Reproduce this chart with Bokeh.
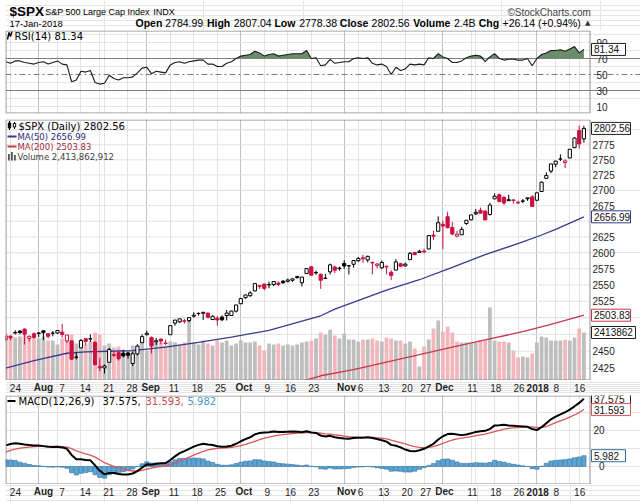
import numpy as np
from bokeh.plotting import figure
from bokeh.layouts import column
from bokeh.models import Range1d, LinearScale, FixedTicker, Grid, Span
from bokeh.core.properties import value
from bokeh.embed import file_html
from bokeh.resources import INLINE

# ---------------- data ----------------
dates = ["Jul 21", "Jul 24", "Jul 25", "Jul 26", "Jul 27", "Jul 28", "Jul 31",
         "Aug 1", "Aug 2", "Aug 3", "Aug 4", "Aug 7", "Aug 8", "Aug 9", "Aug 10", "Aug 11",
         "Aug 14", "Aug 15", "Aug 16", "Aug 17", "Aug 18", "Aug 21", "Aug 22", "Aug 23",
         "Aug 24", "Aug 25", "Aug 28", "Aug 29", "Aug 30", "Aug 31", "Sep 1", "Sep 5",
         "Sep 6", "Sep 7", "Sep 8", "Sep 11", "Sep 12", "Sep 13", "Sep 14", "Sep 15",
         "Sep 18", "Sep 19", "Sep 20", "Sep 21", "Sep 22", "Sep 25", "Sep 26", "Sep 27",
         "Sep 28", "Sep 29", "Oct 2", "Oct 3", "Oct 4", "Oct 5", "Oct 6", "Oct 9", "Oct 10",
         "Oct 11", "Oct 12", "Oct 13", "Oct 16", "Oct 17", "Oct 18", "Oct 19", "Oct 20",
         "Oct 23", "Oct 24", "Oct 25", "Oct 26", "Oct 27", "Oct 30", "Oct 31", "Nov 1",
         "Nov 2", "Nov 3", "Nov 6", "Nov 7", "Nov 8", "Nov 9", "Nov 10", "Nov 13", "Nov 14",
         "Nov 15", "Nov 16", "Nov 17", "Nov 20", "Nov 21", "Nov 22", "Nov 24", "Nov 27",
         "Nov 28", "Nov 29", "Nov 30", "Dec 1", "Dec 4", "Dec 5", "Dec 6", "Dec 7", "Dec 8",
         "Dec 11", "Dec 12", "Dec 13", "Dec 14", "Dec 15", "Dec 18", "Dec 19", "Dec 20",
         "Dec 21", "Dec 22", "Dec 26", "Dec 27", "Dec 28", "Dec 29", "Jan 2", "Jan 3",
         "Jan 4", "Jan 5", "Jan 8", "Jan 9", "Jan 10", "Jan 11", "Jan 12", "Jan 16", "Jan 17"]

prev_close_start = 2473.45

opens = [2467.40, 2472.04, 2477.88, 2479.97, 2482.76, 2469.12, 2475.94, 2477.10, 2480.38, 2476.03,
         2476.88, 2477.14, 2478.35, 2465.35, 2465.38, 2441.04, 2454.96, 2468.66, 2468.63, 2462.95,
         2427.64, 2425.50, 2433.75, 2444.88, 2447.91, 2447.00, 2447.35, 2431.94, 2446.06, 2462.65,
         2474.42, 2470.35, 2463.83, 2468.06, 2462.25, 2474.52, 2491.94, 2493.89, 2494.56, 2495.67,
         2502.51, 2506.29, 2506.84, 2507.16, 2497.26, 2499.39, 2501.04, 2503.30, 2503.41, 2509.96,
         2521.20, 2530.34, 2533.48, 2540.86, 2547.44, 2551.39, 2549.99, 2550.62, 2552.88, 2555.66,
         2555.57, 2557.17, 2562.87, 2553.39, 2567.56, 2578.08, 2568.66, 2566.52, 2560.08, 2570.26,
         2577.75, 2575.99, 2583.21, 2579.46, 2581.93, 2587.47, 2592.11, 2588.71, 2584.00, 2580.18,
         2576.53, 2577.75, 2569.45, 2572.95, 2582.94, 2579.49, 2589.17, 2600.31, 2600.42, 2602.66,
         2605.94, 2627.82, 2633.93, 2645.10, 2657.19, 2639.78, 2626.24, 2628.38, 2646.21, 2652.19,
         2661.73, 2667.59, 2665.87, 2660.63, 2685.92, 2692.71, 2688.18, 2683.02, 2684.22, 2679.09,
         2682.10, 2686.10, 2689.15, 2683.73, 2697.85, 2719.31, 2731.33, 2742.67, 2751.15, 2745.55,
         2752.97, 2770.18, 2798.96, 2784.99]
highs = [2472.54, 2473.10, 2481.24, 2481.69, 2484.04, 2473.53, 2477.96, 2478.51, 2480.38, 2476.03,
         2480.00, 2480.95, 2490.87, 2474.41, 2465.38, 2448.09, 2468.22, 2468.90, 2474.93, 2465.02,
         2440.27, 2430.58, 2454.77, 2448.91, 2450.39, 2451.39, 2449.12, 2449.19, 2460.39, 2475.01,
         2480.38, 2471.97, 2469.64, 2468.62, 2467.11, 2488.95, 2496.77, 2498.37, 2498.43, 2500.23,
         2508.32, 2507.84, 2508.85, 2507.16, 2503.47, 2502.54, 2503.51, 2511.75, 2510.81, 2519.44,
         2529.23, 2535.13, 2540.53, 2552.51, 2549.41, 2551.82, 2555.23, 2555.24, 2555.33, 2557.65,
         2559.47, 2559.71, 2564.11, 2562.36, 2575.44, 2578.29, 2572.18, 2567.40, 2567.07, 2582.98,
         2580.03, 2578.29, 2588.40, 2581.11, 2588.42, 2593.38, 2597.02, 2595.47, 2586.50, 2583.81,
         2587.66, 2579.66, 2572.84, 2590.09, 2583.96, 2584.64, 2601.19, 2600.94, 2604.21, 2606.41,
         2627.69, 2634.89, 2657.74, 2650.62, 2665.19, 2648.72, 2634.41, 2640.99, 2651.65, 2660.33,
         2669.72, 2671.88, 2668.09, 2679.63, 2694.97, 2694.44, 2691.01, 2692.64, 2685.35, 2682.74,
         2685.64, 2687.66, 2692.12, 2695.89, 2714.37, 2729.29, 2743.45, 2748.51, 2759.14, 2750.80,
         2767.56, 2787.85, 2807.54, 2807.04]
lows = [2465.06, 2466.32, 2474.91, 2474.94, 2459.93, 2464.66, 2468.53, 2471.14, 2466.48, 2468.85,
        2472.08, 2475.88, 2470.32, 2462.08, 2437.75, 2437.85, 2454.96, 2458.83, 2463.86, 2430.01,
        2420.69, 2417.35, 2433.67, 2441.42, 2436.19, 2441.13, 2439.03, 2428.20, 2443.82, 2462.65,
        2473.85, 2446.55, 2459.20, 2460.29, 2459.40, 2474.52, 2488.00, 2492.14, 2491.35, 2493.16,
        2499.92, 2503.19, 2496.67, 2499.00, 2496.54, 2488.03, 2495.12, 2495.91, 2502.93, 2507.99,
        2520.40, 2528.85, 2531.80, 2540.02, 2543.79, 2541.60, 2544.86, 2547.95, 2548.31, 2552.09,
        2553.83, 2554.69, 2559.67, 2547.92, 2567.56, 2564.33, 2565.58, 2544.00, 2559.80, 2565.94,
        2568.25, 2572.15, 2574.92, 2566.17, 2576.77, 2585.66, 2584.35, 2585.02, 2566.33, 2575.57,
        2574.48, 2566.56, 2557.45, 2572.95, 2577.62, 2578.24, 2589.17, 2596.15, 2600.42, 2598.87,
        2605.44, 2620.32, 2633.93, 2605.52, 2639.03, 2627.73, 2624.75, 2628.38, 2644.10, 2651.47,
        2659.78, 2662.85, 2652.01, 2659.14, 2685.92, 2680.74, 2676.11, 2682.40, 2678.13, 2677.96,
        2678.91, 2682.69, 2673.61, 2682.36, 2697.77, 2719.07, 2727.92, 2737.60, 2747.86, 2736.06,
        2752.78, 2769.64, 2768.64, 2778.38]
closes = [2472.54, 2469.91, 2477.13, 2477.83, 2475.42, 2472.10, 2470.30, 2476.35, 2477.57, 2472.16,
          2476.83, 2480.91, 2474.92, 2474.02, 2438.21, 2441.32, 2465.84, 2464.61, 2468.11, 2430.01,
          2425.55, 2428.37, 2452.51, 2444.04, 2438.97, 2443.05, 2444.24, 2446.30, 2457.59, 2471.65,
          2476.55, 2457.85, 2465.54, 2465.10, 2461.43, 2488.11, 2496.48, 2498.37, 2495.62, 2500.23,
          2503.87, 2506.65, 2508.24, 2500.60, 2502.22, 2496.66, 2496.84, 2507.04, 2510.06, 2519.36,
          2529.12, 2534.58, 2537.74, 2552.07, 2549.33, 2544.73, 2550.64, 2555.24, 2550.93, 2553.17,
          2557.64, 2559.36, 2561.26, 2562.10, 2575.21, 2564.98, 2569.13, 2557.15, 2560.40, 2581.07,
          2572.83, 2575.26, 2579.36, 2579.85, 2587.84, 2591.13, 2590.64, 2594.38, 2584.62, 2582.30,
          2584.84, 2578.87, 2564.62, 2585.64, 2578.85, 2582.14, 2599.03, 2597.08, 2602.42, 2601.42,
          2627.04, 2626.07, 2647.58, 2642.22, 2639.44, 2629.57, 2629.27, 2636.98, 2651.50, 2659.99,
          2664.11, 2662.85, 2652.01, 2675.81, 2690.16, 2681.47, 2679.25, 2684.57, 2683.34, 2680.50,
          2682.62, 2687.54, 2673.61, 2695.81, 2713.06, 2723.99, 2743.15, 2747.71, 2751.29, 2748.23,
          2767.56, 2786.24, 2776.42, 2802.56]

volume_b = [2.36, 2.31, 2.16, 2.21, 2.61, 2.16, 2.11, 2.11, 2.21, 2.01,
            2.01, 1.81, 2.11, 2.01, 2.31, 1.86, 1.86, 1.81, 1.96, 2.41,
            2.31, 1.76, 1.86, 1.66, 1.71, 1.56, 1.51, 1.76, 1.76, 2.11,
            1.51, 2.11, 1.91, 1.91, 1.76, 1.96, 1.91, 1.81, 1.91, 3.02,
            1.91, 1.81, 2.01, 1.86, 1.76, 2.01, 1.91, 2.01, 1.76, 1.86,
            2.01, 1.91, 1.91, 1.96, 1.76, 1.51, 1.86, 1.81, 1.86, 1.76,
            1.81, 1.76, 1.81, 1.91, 1.96, 2.01, 2.11, 2.41, 2.31, 2.56,
            2.26, 2.11, 2.36, 2.06, 2.06, 1.96, 2.06, 2.06, 2.11, 2.01,
            1.96, 2.16, 2.11, 2.01, 2.01, 1.86, 1.96, 1.61, 0.70, 1.71,
            2.06, 2.61, 3.02, 2.46, 2.71, 2.41, 1.96, 1.91, 1.91, 1.86,
            1.91, 2.01, 2.01, 3.67, 2.01, 1.96, 1.96, 1.91, 1.51, 1.16,
            1.21, 1.16, 1.36, 1.91, 2.21, 2.16, 2.01, 2.01, 2.01, 2.06,
            2.01, 2.16, 2.61, 2.413862]

ma50_day = ["Jul 21", "Jul 31", "Aug 9", "Aug 15", "Aug 22", "Aug 29", "Sep 5", "Sep 8",
            "Sep 19", "Sep 28", "Oct 10", "Oct 19", "Oct 25", "Oct 30", "Nov 14", "Nov 24",
            "Dec 5", "Dec 14", "Dec 27", "Jan 3", "Jan 8", "Jan 17"]
ma50_val = [2425, 2436, 2447, 2449, 2450, 2451, 2454, 2456, 2463, 2471, 2481, 2495, 2503,
            2513, 2542, 2558, 2577, 2597, 2617, 2628, 2637, 2656.99]
ma200_day = ["Oct 13", "Oct 19", "Oct 25", "Nov 3", "Nov 14", "Nov 24", "Dec 5", "Dec 14",
             "Dec 27", "Jan 5", "Jan 17"]
ma200_val = [2400, 2406, 2414, 2423, 2434, 2445, 2456, 2467, 2479, 2490, 2503.83]

rsi = [66, 64, 67, 67, 65, 64, 63, 65, 66, 63,
       65, 67, 63, 62, 41, 43, 54, 53, 55, 40,
       38, 39, 49, 45, 43, 46, 46, 47, 52, 58,
       59, 51, 54, 53, 52, 62, 65, 66, 64, 66,
       67, 68, 68, 63, 63, 60, 60, 64, 66, 70,
       73, 74, 75, 79, 77, 73, 75, 76, 73, 74,
       75, 76, 76, 76, 80, 70, 71, 61, 62, 69,
       64, 65, 66, 66, 70, 71, 70, 71, 64, 62,
       63, 60, 50, 59, 55, 57, 63, 62, 63, 62,
       71, 70, 76, 72, 70, 65, 65, 67, 71, 73,
       74, 73, 66, 72, 76, 70, 68, 69, 69, 68,
       68, 70, 61, 70, 75, 77, 80, 80, 81, 79,
       82, 85, 77, 81.34]

macd = [11.7, 12.5, 12.9, 12.6, 12.2, 11.9, 11.7, 11.6, 11.3, 10.9,
        10.8, 10.9, 10.6, 9.8, 6.4, 4.0, 4.0, 3.6, 3.4, 0.6,
        -2.4, -4.4, -3.6, -3.6, -4.2, -4.4, -4.4, -3.9, -2.6, -0.6,
        1.2, 1.0, 1.5, 1.8, 1.9, 3.6, 5.6, 7.4, 8.5, 9.8,
        11.0, 12.0, 12.6, 12.2, 11.9, 11.2, 10.9, 11.1, 11.5, 12.6,
        14.0, 15.2, 16.2, 17.8, 18.6, 18.8, 19.0, 19.4, 19.2, 19.2,
        19.3, 19.4, 19.3, 19.0, 19.6, 18.9, 18.6, 17.2, 16.6, 17.0,
        16.2, 15.8, 15.5, 15.4, 15.8, 16.0, 16.0, 16.2, 15.8, 15.2,
        14.6, 13.8, 12.0, 11.5, 10.6, 9.4, 8.6, 8.4, 9.0, 9.8,
        11.2, 12.6, 15.0, 16.8, 18.0, 18.2, 17.8, 17.4, 17.8, 18.4,
        19.2, 19.6, 19.8, 20.8, 22.8, 22.9, 23.1, 22.8, 22.6, 22.4,
        22.2, 22.0, 20.8, 20.2, 21.8, 24.0, 26.2, 27.7, 28.9, 30.1,
        31.6, 33.4, 35.3, 37.575]
signal = [8.0, 8.9, 9.6, 10.2, 10.5, 10.8, 11.1, 11.2, 11.2, 11.2,
          11.2, 11.1, 11.0, 10.8, 9.9, 8.7, 7.8, 7.0, 6.3, 5.2,
          3.7, 2.1, 1.0, 0.1, -0.8, -1.5, -2.1, -2.5, -2.5, -2.1,
          -1.4, -0.9, -0.4, 0.0, 0.4, 1.0, 1.9, 3.0, 4.1, 5.2,
          6.3, 7.4, 8.4, 9.2, 9.7, 10.0, 10.2, 10.4, 10.6, 11.0,
          11.6, 12.3, 13.1, 14.0, 14.9, 15.7, 16.3, 16.9, 17.4, 17.7,
          18.0, 18.3, 18.5, 18.6, 18.8, 18.8, 18.8, 18.5, 18.1, 17.9,
          17.6, 17.2, 16.8, 16.5, 16.4, 16.3, 16.2, 16.2, 16.1, 15.9,
          15.7, 15.3, 14.6, 14.0, 13.3, 12.5, 11.7, 11.0, 10.6, 10.4,
          10.6, 11.0, 11.8, 12.8, 13.8, 14.7, 15.3, 15.7, 16.1, 16.6,
          17.1, 17.6, 18.0, 18.6, 19.4, 20.1, 20.7, 21.1, 21.4, 21.6,
          21.8, 22.0, 22.0, 21.7, 21.7, 22.2, 23.2, 24.3, 25.3, 26.3,
          27.4, 28.6, 30.0, 31.593]
hist = [3.7, 3.6, 3.3, 2.4, 1.7, 1.1, 0.6, 0.4, 0.1, -0.3,
        -0.4, -0.2, -0.4, -1.0, -3.5, -4.7, -3.8, -3.4, -2.9, -4.6,
        -6.1, -6.5, -4.6, -3.7, -3.4, -2.9, -2.3, -1.4, -0.1, 1.5,
        2.6, 1.9, 1.9, 1.8, 1.5, 2.6, 3.7, 4.4, 4.4, 4.6,
        4.7, 4.6, 4.2, 3.0, 2.2, 1.2, 0.7, 0.7, 0.9, 1.6,
        2.4, 2.9, 3.1, 3.8, 3.7, 3.1, 2.7, 2.5, 1.8, 1.5,
        1.3, 1.1, 0.8, 0.4, 0.8, 0.1, -0.2, -1.3, -1.5, -0.9,
        -1.4, -1.4, -1.3, -1.1, -0.6, -0.3, -0.2, 0.0, -0.3, -0.7,
        -1.1, -1.5, -2.6, -2.5, -2.7, -3.1, -3.1, -2.6, -1.6, -0.6,
        0.6, 1.6, 3.2, 4.0, 4.2, 3.5, 2.5, 1.7, 1.7, 1.8,
        2.1, 2.0, 1.8, 2.2, 3.4, 2.8, 2.4, 1.7, 1.2, 0.8,
        0.4, 0.0, -1.2, -1.5, 0.1, 1.8, 3.0, 3.4, 3.6, 3.8,
        4.2, 4.8, 5.3, 5.982]

tick_dates = ["Jul 24", "Aug 1", "Aug 7", "Aug 14", "Aug 21", "Aug 28", "Sep 1", "Sep 11",
              "Sep 18", "Sep 25", "Oct 2", "Oct 9", "Oct 16", "Oct 23", "Nov 1", "Nov 6",
              "Nov 13", "Nov 20", "Nov 27", "Dec 1", "Dec 11", "Dec 18", "Dec 26", "Jan 2",
              "Jan 8", "Jan 16"]
tick_labels = ["24", "Aug", "7", "14", "21", "28", "Sep", "11", "18", "25", "Oct", "9", "16",
               "23", "Nov", "6", "13", "20", "27", "Dec", "11", "18", "26", "2018", "8", "16"]
month_labels = ["Aug", "Sep", "Oct", "Nov", "Dec", "2018"]

rsi_ticks = [10, 30, 50, 70, 90]
rsi_lines = [30, 50, 70]
price_ticks = [2425, 2450, 2475, 2500, 2525, 2550, 2575, 2600, 2625, 2650, 2675, 2700,
               2725, 2750, 2775, 2800]
price_hidden = [2475, 2500, 2650, 2800]
macd_ticks = [-10, 0, 10, 20, 30, 40]
macd_shown = [0, 20]

# ---------------- layout constants (page pixels) ----------------
W = 640
PLOT_L, PLOT_R = 5, 590
PX_PER_DAY = 4.7
X0 = -0.0638
xr = Range1d(X0, X0 + (W - PLOT_L) / PX_PER_DAY)
xr_strip = Range1d(X0 - PLOT_L / PX_PER_DAY, X0 + (W - PLOT_L) / PX_PER_DAY)

GRID = "#e2e2e2"
MGRID = "#c0c0c0"
OUTLINE = "#8e8e8e"
RED = "#cc1140"
VOL_UP = "#bebebe"
VOL_DN = "#f2b6bd"
NAVY = "#3a3a8e"
MA200C = "#c8384a"
RSI_FILL = "#6a8c6a"
SIGC = "#d9585a"
HIST_FILL = "#5aa6d6"
HIST_LINE = "#2f6f9f"
LBL = "#1e1e1e"

x = list(range(len(closes)))
pos = {d: i for i, d in enumerate(dates)}
tick_x = [pos[d] for d in tick_dates]
month_x = [tx for tx, lb in zip(tick_x, tick_labels) if lb in month_labels]
week_x = [tx for tx, lb in zip(tick_x, tick_labels) if lb not in month_labels]


def panel(height, y_range, top, bottom, ftop, fbot, y_type="linear", extra=None):
    p = figure(width=W, height=height, x_range=xr, y_range=y_range, y_axis_type=y_type,
               x_axis_location=None, y_axis_location=None, toolbar_location=None,
               output_backend="svg", title=None, min_border_left=PLOT_L,
               min_border_right=0, min_border_top=top, min_border_bottom=bottom,
               outline_line_color=None)
    ranges = {"py": Range1d(fbot, ftop)}
    scales = {"py": LinearScale()}
    if extra:
        ranges.update(extra)
        scales.update({k: LinearScale() for k in extra})
    p.extra_x_ranges = {"px": Range1d(PLOT_L, W)}
    p.extra_x_scales = {"px": LinearScale()}
    p.extra_y_ranges = ranges
    p.extra_y_scales = scales
    p.add_layout(Grid(dimension=0, ticker=FixedTicker(ticks=week_x), grid_line_color=GRID))
    p.add_layout(Grid(dimension=0, ticker=FixedTicker(ticks=month_x), grid_line_color=MGRID))
    return p


def hgrid(p, ticks):
    p.segment(x0=[PLOT_L] * len(ticks), x1=[PLOT_R] * len(ticks), y0=ticks, y1=ticks,
              x_range_name="px", line_color=GRID, line_width=1)


def border(p, ftop, fbot):
    p.quad(left=[PLOT_L + 0.5], right=[PLOT_R - 0.5], top=[ftop + 0.5], bottom=[fbot - 0.5],
           x_range_name="px", y_range_name="py", fill_color=None, line_color=OUTLINE,
           line_width=1)


def ylabels(p, ticks, labels, xpos, align):
    p.text(x=[xpos] * len(ticks), y=ticks, text=labels, x_range_name="px",
           text_font=value("Liberation Sans"), text_font_size=value("10px"),
           text_color=LBL, text_align=value(align), text_baseline=value("middle"))


def ptext(p, px, py, s, color="#000000", size="9px", font="DejaVu Sans"):
    p.text(x=[px], y=[py], text=[s], x_range_name="px", y_range_name="py",
           text_color=color, text_font=value(font), text_font_size=value(size),
           text_align=value("left"), text_baseline=value("middle"))


def tag(p, yv, s, border_col, width, rname="default"):
    p.rect(x=[PLOT_R + 1 + width / 2], y=[yv], width=[width], height=12,
           height_units="screen", x_range_name="px", y_range_name=rname,
           fill_color="white", line_color=border_col, line_width=1)
    p.text(x=[PLOT_R + 3.5], y=[yv], text=[s], x_range_name="px", y_range_name=rname,
           text_font=value("Liberation Sans"), text_font_size=value("10px"),
           text_color="#111111", text_align=value("left"), text_baseline=value("middle"))


# ---------------- header (page y 0..30) ----------------
hdr = figure(width=W, height=30, x_range=Range1d(0, W), y_range=Range1d(30, 0),
             x_axis_location=None, y_axis_location=None, toolbar_location=None,
             output_backend="svg", title=None, min_border=0, outline_line_color=None)


def htext(px, py, s, size, bold=False, color="#000000", align="left", font="Liberation Sans"):
    hdr.text(x=[px], y=[py], text=[s], text_color=color, text_font=value(font),
             text_font_size=value(size), text_font_style=value("bold" if bold else "normal"),
             text_align=value(align), text_baseline=value("middle"))


htext(4, 11, "$SPX", "13.5px", bold=True)
htext(40, 11.5, "S&P 500 Large Cap Index", "9px")
htext(149, 11.5, "INDX", "9px")
htext(590, 11.5, "\u00a9StockCharts.com", "10px", color="#444444", align="right")
htext(4, 22.5, "17-Jan-2018", "9.5px")
row2 = [(131, "Open", True), (161, "2784.99", False), (203, "High", True),
        (230, "2807.04", False), (271, "Low", True), (296, "2778.38", False),
        (337, "Close", True), (369, "2802.56", False), (411, "Volume", True),
        (452, "2.4B", False), (477, "Chg", True), (501, "+26.14 (+0.94%)", False)]
for hx, s, b in row2:
    htext(hx, 22.5, s, "10.5px", bold=b)
htext(584, 22.5, "\u25b2", "7px", color="#333333", font="DejaVu Sans")

# ---------------- RSI panel (page y 30..118, frame 30..113) ----------------
rp = panel(88, Range1d(1.25, 105.0), 0, 5, 30, 113)
hgrid(rp, [10, 90])
for lv in rsi_lines:
    rp.add_layout(Span(location=lv, dimension="width", line_color="#7d7d7d", line_width=1,
                       line_dash="solid" if lv != 50 else "6 3 2 3", level="underlay"))
rp.varea(x=x, y1=[70] * len(x), y2=np.maximum(np.array(rsi), 70), fill_color=RSI_FILL)
rp.line(x, rsi, line_color="#1a1a1a", line_width=1.1)
rp.line([7, 8.5, 10, 11.5], [39, 32, 36, 31], x_range_name="px", y_range_name="py",
        line_color="#000000", line_width=1.4)
ptext(rp, 14, 35.5, "RSI(14) 81.34", size="10px")
ylabels(rp, rsi_ticks, [str(t) for t in rsi_ticks], 607, "right")
tag(rp, rsi[-1], "81.34", "#222222", 34)
border(rp, 30, 113)

# ---------------- price panel (page y 118..380, frame 119..380) ----------------
pp = panel(262, Range1d(2407.1, 2817.7), 1, 0, 119, 380, y_type="log",
           extra={"vol": Range1d(0, 13.125)})
hgrid(pp, price_ticks)
prevs = [prev_close_start] + closes[:-1]
down = [c < pc for c, pc in zip(closes, prevs)]
line_cols = [RED if d else "#000000" for d in down]
fill_cols = ["white" if c > o else lc for o, c, lc in zip(opens, closes, line_cols)]
vol_cols = [VOL_DN if d else VOL_UP for d in down]

pp.vbar(x=x, top=volume_b, bottom=0, width=0.8, fill_color=vol_cols, line_color=None,
        y_range_name="vol")
pp.line([pos[d] for d in ma200_day], ma200_val, line_color=MA200C, line_width=1.3)
pp.line([pos[d] for d in ma50_day], ma50_val, line_color=NAVY, line_width=1.3)
pp.segment(x0=x, y0=lows, x1=x, y1=highs, line_color=line_cols, line_width=1)
pp.vbar(x=x, top=[max(o, c) for o, c in zip(opens, closes)],
        bottom=[min(o, c) for o, c in zip(opens, closes)], width=0.68,
        fill_color=fill_cols, line_color=line_cols, line_width=1)

pp.segment(x0=[9, 14], y0=[120.5, 121.5], x1=[9, 14], y1=[129.5, 128.5], x_range_name="px",
           y_range_name="py", line_color="#000000", line_width=1)
pp.quad(left=[7.8, 12.8], right=[10.2, 15.2], top=[122.5, 123], bottom=[127.5, 126.5],
        x_range_name="px", y_range_name="py", fill_color=["#000000", "white"],
        line_color="#000000", line_width=1)
ptext(pp, 18, 125.5, "$SPX (Daily) 2802.56", size="10px")
pp.segment(x0=[7, 7], y0=[136, 146], x1=[16, 16], y1=[136, 146], x_range_name="px",
           y_range_name="py", line_color=[NAVY, MA200C], line_width=2)
ptext(pp, 17, 136, "MA(50) 2656.99", color="#2a2a7a", size="8.5px")
ptext(pp, 17, 146, "MA(200) 2503.83", color="#a3283e", size="8.5px")
pp.quad(left=[7.5, 10.5, 13.5], right=[9.3, 12.3, 15.3], top=[153.5, 151.5, 154.5],
        bottom=[160, 160, 160], x_range_name="px", y_range_name="py",
        fill_color="#555555", line_color=None)
ptext(pp, 17, 156, "Volume 2,413,862,912", color="#404040", size="8.5px")

ylabels(pp, [t for t in price_ticks if t not in price_hidden],
        [str(t) for t in price_ticks if t not in price_hidden], 592, "left")
tag(pp, closes[-1], "2802.56", "#222222", 39)
tag(pp, ma50_val[-1], "2656.99", NAVY, 39)
tag(pp, ma200_val[-1], "2503.83", MA200C, 39)
tag(pp, volume_b[-1], "2413862", "#222222", 44, rname="vol")
border(pp, 119, 380)


# ---------------- date label strips ----------------
def strip(height, top, ytext):
    s = figure(width=W, height=height, x_range=xr_strip, y_range=Range1d(top + height, top),
               x_axis_location=None, y_axis_location=None, toolbar_location=None,
               output_backend="svg", title=None, min_border=0, outline_line_color=None)
    for bold in (False, True):
        sel = [(tx, lb) for tx, lb in zip(tick_x, tick_labels) if (lb in month_labels) == bold]
        s.text(x=[a for a, _ in sel], y=[ytext] * len(sel), text=[b for _, b in sel],
               text_font=value("Liberation Sans"), text_font_size=value("10px"),
               text_font_style=value("bold" if bold else "normal"),
               text_align=value("center"), text_baseline=value("middle"), text_color=LBL)
    return s


s1 = strip(14, 380, 387)

# ---------------- MACD panel (page y 394..484, frame 395..484) ----------------
mp = panel(90, Range1d(-10, 39.4), 1, 0, 395, 484)
hgrid(mp, macd_ticks)
mp.vbar(x=x, top=hist, bottom=0, width=0.9, fill_color=HIST_FILL, line_color=HIST_LINE,
        line_width=0.6)
mp.line(x, signal, line_color=SIGC, line_width=1.3)
mp.line(x, macd, line_color="#000000", line_width=2)
mp.segment(x0=[7], y0=[400.5], x1=[15], y1=[400.5], x_range_name="px", y_range_name="py",
           line_color="#000000", line_width=2)
ptext(mp, 18, 400.5, "MACD(12,26,9)", size="10px")
ptext(mp, 102, 400.5, "37.575,", size="10px")
ptext(mp, 145, 400.5, "31.593,", color="#c8484a", size="10px")
ptext(mp, 187, 400.5, "5.982", color="#4a9ad0", size="10px")
ylabels(mp, macd_shown, [str(t) for t in macd_shown], 604, "right")
tag(mp, macd[-1], "37.575", "#222222", 39)
tag(mp, signal[-1], "31.593", SIGC, 39)
tag(mp, hist[-1], "5.982", HIST_LINE, 34)
border(mp, 395, 484)

s2 = strip(18, 484, 491)

layout = column(hdr, rp, pp, s1, mp, s2, spacing=0)
open("out.html", "w").write(file_html(layout, INLINE))
